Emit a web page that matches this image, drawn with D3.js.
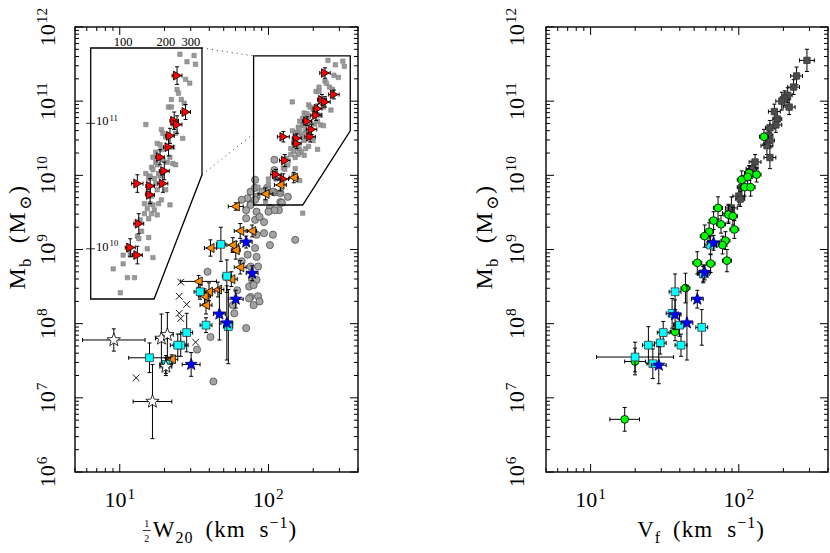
<!DOCTYPE html>
<html>
<head>
<meta charset="utf-8">
<script src="https://cdn.jsdelivr.net/npm/d3@7"></script>
<style>
  body { margin: 0; background: #fff; }
  svg { display: block; font-family: "Liberation Serif", "DejaVu Serif", serif; }
</style>
</head>
<body>
<svg id="chart" width="830" height="553"></svg>
<script>
const V_DOMAIN = [5, 400];
const M_DOMAIN = [1e6, 1e12];
const xTickExps = [1, 2];
const yTickExps = [6, 7, 8, 9, 10, 11, 12];
const insetXLabels = [100, 200, 300];
const insetYExps = [10, 11];

// all values are log10: [log V (km/s), log Mb (Msun), err log V, err log Mb]
const grayCircles = [
  [1.91,9.94],[1.88,9.78],[1.86,9.69],[1.82,9.67],[1.88,9.61],[1.92,9.71],[1.96,9.78],[1.99,9.83],
  [2.04,9.77],[2.04,10.21],[2.08,9.64],[2.07,9.53],[2.01,9.56],[1.92,9.51],[1.91,9.40],[1.97,9.37],
  [1.85,9.42],[2.03,9.20],[2.01,9.06],[1.97,9.22],[1.92,9.20],[2.18,9.13],[1.91,9.02],[1.92,8.90],
  [1.86,8.93],[1.82,8.84],[1.88,8.77],[1.93,8.77],[1.89,8.59],[1.92,8.59],[1.87,8.50],[1.90,8.52],
  [1.88,8.36],[1.93,8.37],[1.87,8.34],[1.94,8.30],[1.90,8.25],[1.59,8.70],[1.76,8.25],[1.77,8.14],
  [1.85,7.94],[1.61,7.82],[1.52,7.65],[1.63,7.22],[1.79,8.45],[2.04,10.07],[1.91,9.83],[1.88,9.60],
  [1.91,9.67],[2.03,9.78],[2.09,9.63],[2.04,9.53],[2.00,9.51],[1.94,9.44],[2.13,9.71],[2.08,9.76],
  [1.85,9.53]
];
const graySquares = [
  [2.40,11.55],[2.45,11.49],[2.50,11.54],[2.51,11.47],[2.44,11.35],[2.47,11.32],[2.38,11.27],[2.39,11.24],
  [2.34,11.19],[2.41,11.19],[2.43,11.16],[2.32,11.13],[2.34,11.13],[2.16,10.99],[2.27,10.95],[2.28,10.92],
  [2.30,10.89],[2.37,10.92],[2.42,10.88],[2.24,10.84],[2.26,10.83],[2.27,10.79],[2.23,10.77],[2.35,10.81],
  [2.21,10.73],[2.23,10.69],[2.24,10.67],[2.28,10.71],[2.31,10.69],[2.35,10.68],[2.37,10.67],[2.33,10.73],
  [2.20,10.65],[2.21,10.63],[2.25,10.60],[2.26,10.58],[2.22,10.56],[2.19,10.58],[2.16,10.60],[2.18,10.56],
  [2.23,10.52],[2.30,10.47],[2.17,10.44],[2.20,10.42],[2.24,10.47],[2.15,10.36],[2.19,10.36],[2.21,10.35],
  [2.25,10.36],[2.17,10.32],[2.22,10.31],[2.27,10.39],[2.33,10.35],[2.15,10.28],[2.20,10.28],[2.24,10.27],
  [2.18,10.24],[2.12,10.23],[2.13,10.14],[2.10,10.10],[2.18,10.09],[2.11,10.08],[2.04,9.99],[2.17,10.00],
  [2.21,9.93],[2.00,9.95],[2.05,9.95],[1.93,9.84],[2.00,9.88],[2.03,9.77],[2.08,9.77],[1.98,9.65],
  [2.23,9.49]
];
const redTriangles = [
  [2.38,11.38,0.035,0.07],[2.44,11.09,0.035,0.06],[2.36,11.02,0.03,0.07],[2.38,10.99,0.035,0.07],
  [2.33,10.90,0.03,0.06],[2.32,10.81,0.035,0.07],[2.26,10.73,0.03,0.06],[2.29,10.62,0.035,0.07],
  [2.28,10.52,0.035,0.07],[2.10,10.52,0.04,0.07],[2.19,10.50,0.03,0.06],[2.19,10.43,0.03,0.07],
  [2.11,10.20,0.035,0.08],[2.05,10.01,0.035,0.07],[2.10,9.95,0.035,0.07]
];
const orangeTriangles = [
  [2.17,9.97,0.03,0.07],[2.08,9.87,0.04,0.08],[1.98,9.75,0.05,0.08],[1.78,9.58,0.05,0.05],
  [1.81,9.25,0.04,0.10],[1.89,9.25,0.03,0.08],[1.76,9.06,0.04,0.10],[1.78,8.99,0.03,0.12],
  [1.61,9.02,0.04,0.11],[1.81,8.76,0.04,0.09],[1.75,8.60,0.04,0.10],[1.53,8.57,0.12,0.08],
  [1.60,8.43,0.04,0.12],[1.66,8.46,0.04,0.10],[1.57,8.37,0.04,0.10],[1.58,8.25,0.04,0.12],
  [1.35,7.52,0.04,0.06]
];
const cyanSquaresW = [
  [1.68,9.07,0.03,0.23],[1.72,8.64,0.03,0.22],[1.54,8.43,0.04,0.10],[1.58,7.98,0.04,0.10],
  [1.73,7.96,0.03,0.50],[1.45,7.88,0.04,0.26],[1.41,7.71,0.05,0.15],[1.39,7.71,0.05,0.15],
  [1.20,7.54,0.14,0.20],[1.31,7.45,0.04,0.12]
];
const blueStarsW = [
  [1.85,9.10,0.04,0.08],[1.89,8.68,0.04,0.10],[1.78,8.33,0.05,0.12],[1.67,8.13,0.04,0.35],
  [1.72,8.01,0.04,0.50],[1.48,7.45,0.06,0.16]
];
const whiteStars = [
  [0.96,7.78,0.21,0.15],[1.22,6.95,0.13,0.50],[1.28,7.80,0.04,0.33],[1.32,7.85,0.04,0.30],
  [1.31,7.42,0.04,0.12]
];
const crosses = [
  [1.41,8.56],[1.40,8.37],[1.45,8.26],[1.40,8.14],[1.41,8.07],[1.51,7.75],[1.11,7.27]
];

const darkSquares = [
  [2.46,11.55,0.05,0.15],[2.39,11.34,0.04,0.12],[2.37,11.19,0.04,0.10],[2.33,11.08,0.03,0.10],
  [2.31,11.04,0.03,0.10],[2.29,11.00,0.04,0.12],[2.34,10.92,0.04,0.10],[2.24,10.86,0.04,0.10],
  [2.26,10.76,0.03,0.10],[2.25,10.68,0.04,0.10],[2.21,10.64,0.03,0.10],[2.20,10.54,0.03,0.10],
  [2.21,10.47,0.03,0.10],[2.19,10.40,0.04,0.12],[2.21,10.24,0.04,0.15],[2.11,10.18,0.04,0.10],
  [2.09,10.09,0.04,0.10],[2.07,10.03,0.03,0.10],[2.02,9.84,0.03,0.15],[2.00,9.72,0.04,0.12],
  [2.01,9.68,0.03,0.10],[1.95,9.56,0.04,0.15],[1.93,9.49,0.04,0.12]
];
const greenCircles = [
  [2.17,10.52,0.03,0.10],[2.02,9.94,0.03,0.12],[2.07,10.03,0.03,0.10],[2.06,9.98,0.03,0.10],
  [2.12,10.01,0.03,0.10],[2.04,9.84,0.03,0.12],[2.08,9.84,0.03,0.12],[1.86,9.56,0.03,0.15],
  [1.93,9.47,0.03,0.12],[1.96,9.45,0.03,0.12],[1.83,9.39,0.03,0.12],[1.88,9.34,0.03,0.12],
  [1.97,9.27,0.03,0.12],[1.80,9.24,0.03,0.12],[1.77,9.18,0.03,0.15],[1.91,9.12,0.03,0.12],
  [1.89,9.06,0.03,0.12],[1.72,8.82,0.03,0.15],[1.81,8.81,0.03,0.12],[1.92,8.85,0.03,0.15],
  [1.76,8.67,0.03,0.12],[1.64,8.48,0.03,0.20],[1.57,7.89,0.03,0.12],[1.30,7.49,0.07,0.18],
  [1.23,6.71,0.10,0.16]
];
const cyanSquaresF = [
  [1.81,9.06,0.04,0.12],[1.76,8.67,0.04,0.10],[1.57,8.43,0.04,0.24],[1.55,8.14,0.04,0.20],
  [1.60,7.98,0.04,0.15],[1.75,7.95,0.04,0.24],[1.49,7.88,0.04,0.15],[1.47,7.74,0.04,0.15],
  [1.39,7.71,0.04,0.25],[1.61,7.71,0.04,0.15],[1.30,7.55,0.26,0.20],[1.42,7.46,0.04,0.20]
];
const blueStarsF = [
  [1.83,9.09,0.04,0.10],[1.77,8.69,0.04,0.10],[1.72,8.33,0.04,0.12],[1.57,8.12,0.04,0.20],
  [1.65,8.01,0.04,0.50],[1.46,7.44,0.05,0.25]
];

// zoom box in the left panel and the inset that magnifies it (log10 V, log10 Mb)
const zoomBox = [[1.90,11.61],[2.55,11.61],[2.55,10.60],[2.23,9.60],[1.90,9.60]];
const insetBox = [[1.771,11.6],[2.556,11.6],[2.556,10.59],[2.218,9.6],[1.771,9.6]];

const p10 = v => Math.pow(10, v);
const svg = d3.select('#chart');

function starPath(r) {
  const pts = d3.range(10).map(i => {
    const a = -Math.PI / 2 + i * Math.PI / 5, rr = i % 2 ? r * 0.42 : r;
    return [rr * Math.cos(a), rr * Math.sin(a)];
  });
  return 'M' + pts.map(p => p[0].toFixed(2) + ',' + p[1].toFixed(2)).join('L') + 'Z';
}
const SHAPES = {
  circle: r => `M${r},0A${r},${r} 0 1,1 ${-r},0A${r},${r} 0 1,1 ${r},0Z`,
  square: r => `M${-r},${-r}H${r}V${r}H${-r}Z`,
  triRight: r => `M${-r * 0.8},${-r}L${r},0L${-r * 0.8},${r}Z`,
  triLeft: r => `M${r * 0.8},${-r}L${-r},0L${r * 0.8},${r}Z`,
  star: starPath,
  cross: r => `M${-r},${-r}L${r},${r}M${-r},${r}L${r},${-r}`,
};

function drawSeries(g, x, y, data, opt) {
  if (data[0].length > 2) {
    const c = 2;
    g.append('g')
      .attr('fill', 'none')
      .attr('stroke', '#000')
      .attr('stroke-width', 1)
      .selectAll('path').data(data).join('path')
      .attr('d', d => {
        const cx = x(p10(d[0])), cy = y(p10(d[1]));
        const xl = x(p10(d[0] - d[2])), xr = x(p10(d[0] + d[2]));
        const yt = y(p10(d[1] + d[3])), yb = y(p10(d[1] - d[3]));
        return `M${xl},${cy}H${xr}M${xl},${cy - c}V${cy + c}M${xr},${cy - c}V${cy + c}` +
          `M${cx},${yt}V${yb}M${cx - c},${yt}H${cx + c}M${cx - c},${yb}H${cx + c}`;
      });
  }
  g.append('g').selectAll('path').data(data).join('path')
    .attr('transform', d => `translate(${x(p10(d[0]))},${y(p10(d[1]))})`)
    .attr('d', SHAPES[opt.shape](opt.r))
    .attr('fill', opt.fill)
    .attr('stroke', opt.stroke)
    .attr('stroke-width', opt.sw || 0.8);
}

function powLabel(text, exp) {
  text.append('tspan').text('10');
  text.append('tspan').attr('dx', 1).attr('dy', '-0.5em').attr('font-size', '0.7em').text(exp);
}

function makePanel(id, x0, x1, yLabelX, tickLabelX) {
  const x = d3.scaleLog().domain(V_DOMAIN).range([x0, x1]);
  const y = d3.scaleLog().domain(M_DOMAIN).range([472, 27]);
  const g = svg.append('g').attr('class', 'panel panel-' + id);

  g.append('clipPath').attr('id', 'clip-' + id)
    .append('rect').attr('x', x0).attr('y', 27).attr('width', x1 - x0).attr('height', 445);
  const plot = g.append('g').attr('clip-path', `url(#clip-${id})`);

  const isMajor = v => Math.abs(Math.log10(v) - Math.round(Math.log10(v))) < 1e-6;
  const ticks = g.append('g').attr('stroke', '#000').attr('stroke-width', 1);
  x.ticks().forEach(v => {
    const len = isMajor(v) ? 8 : 4, px = x(v);
    ticks.append('line').attr('x1', px).attr('x2', px).attr('y1', 472).attr('y2', 472 - len);
    ticks.append('line').attr('x1', px).attr('x2', px).attr('y1', 27).attr('y2', 27 + len);
  });
  y.ticks().forEach(v => {
    const len = isMajor(v) ? 8 : 4, py = y(v);
    ticks.append('line').attr('x1', x0).attr('x2', x0 + len).attr('y1', py).attr('y2', py);
    ticks.append('line').attr('x1', x1).attr('x2', x1 - len).attr('y1', py).attr('y2', py);
  });

  g.append('rect')
    .attr('x', x0).attr('y', 27).attr('width', x1 - x0).attr('height', 445)
    .attr('fill', 'none').attr('stroke', '#000').attr('stroke-width', 1.4);

  xTickExps.forEach(e => {
    g.append('text').attr('x', x(p10(e))).attr('y', 507)
      .attr('text-anchor', 'middle').attr('font-size', 22)
      .call(powLabel, e);
  });
  yTickExps.forEach(e => {
    g.append('text').attr('transform', `translate(${tickLabelX},${y(p10(e))}) rotate(-90)`)
      .attr('text-anchor', 'middle').attr('font-size', 22)
      .call(powLabel, e);
  });

  const yl = g.append('text')
    .attr('transform', `translate(${yLabelX},237) rotate(-90)`)
    .attr('text-anchor', 'middle').attr('font-size', 24).attr('letter-spacing', 1.5);
  yl.append('tspan').text('M');
  yl.append('tspan').attr('dy', 6).attr('font-size', 16).text('b');
  yl.append('tspan').attr('dy', -6).attr('dx', 14).text('(M');
  yl.append('tspan').attr('dy', 6).attr('dx', 1).attr('font-size', 17).text('\u2299');
  yl.append('tspan').attr('dy', -6).text(')');

  return {g, plot, x, y};
}

function xAxisLabel(g, cx, withHalf, sym, sub) {
  const lab = g.append('g');
  let off = 0;
  if (withHalf) {
    lab.append('text').attr('x', 4).attr('y', -10).attr('font-size', 10).attr('text-anchor', 'middle').text('1');
    lab.append('text').attr('x', 4).attr('y', 5).attr('font-size', 10).attr('text-anchor', 'middle').text('2');
    lab.append('line').attr('x1', 0).attr('x2', 8).attr('y1', -6.5).attr('y2', -6.5).attr('stroke', '#000').attr('stroke-width', 0.8);
    off = 10;
  }
  const t = lab.append('text').attr('x', off).attr('y', 0).attr('font-size', 23).attr('letter-spacing', 1);
  t.append('tspan').text(sym);
  t.append('tspan').attr('dy', 6).attr('font-size', 16).text(sub);
  t.append('tspan').attr('dy', -6).attr('dx', 12).text('(km');
  t.append('tspan').attr('dx', 14).text('s');
  t.append('tspan').attr('dy', -9).attr('font-size', 16).text('\u22121');
  t.append('tspan').attr('dy', 9).text(')');
  const bb = lab.node().getBBox();
  lab.attr('transform', `translate(${cx - bb.x - bb.width / 2},537)`);
}

// ---- left panel: half width W20 ----
const L = makePanel('w20', 75, 358, 25, 55);
drawSeries(L.plot, L.x, L.y, crosses, {shape: 'cross', r: 3.4, fill: 'none', stroke: '#000', sw: 0.9});
drawSeries(L.plot, L.x, L.y, grayCircles, {shape: 'circle', r: 3.6, fill: '#a3a3a3', stroke: '#444', sw: 0.7});
drawSeries(L.plot, L.x, L.y, graySquares, {shape: 'square', r: 2.2, fill: '#9a9a9a', stroke: '#707070', sw: 0.5});
drawSeries(L.plot, L.x, L.y, redTriangles, {shape: 'triRight', r: 4.3, fill: '#ff0000', stroke: '#000'});
drawSeries(L.plot, L.x, L.y, orangeTriangles, {shape: 'triLeft', r: 4.5, fill: '#ff8c00', stroke: '#000'});
drawSeries(L.plot, L.x, L.y, cyanSquaresW, {shape: 'square', r: 3.9, fill: '#00ffff', stroke: '#333'});
drawSeries(L.plot, L.x, L.y, whiteStars, {shape: 'star', r: 7, fill: '#fff', stroke: '#000'});
drawSeries(L.plot, L.x, L.y, blueStarsW, {shape: 'star', r: 6.3, fill: '#0000ff', stroke: '#000060'});

const boxLine = d3.line().x(d => L.x(p10(d[0]))).y(d => L.y(p10(d[1])));
L.g.append('path').attr('d', boxLine(zoomBox) + 'Z')
  .attr('fill', 'none').attr('stroke', '#000').attr('stroke-width', 1.3);

// inset: magnified view of the zoom box
const xi = d3.scaleLog().domain([p10(1.771), p10(2.556)]).range([90.7, 202]);
const yi = d3.scaleLog().domain([p10(9.6), p10(11.6)]).range([299, 48]);
const insetLine = d3.line().x(d => xi(p10(d[0]))).y(d => yi(p10(d[1])));

L.g.append('line')
  .attr('x1', xi(p10(2.556))).attr('y1', yi(p10(11.6)))
  .attr('x2', L.x(p10(1.90))).attr('y2', L.y(p10(11.61)))
  .attr('stroke', '#333').attr('stroke-dasharray', '1,4');
L.g.append('line')
  .attr('x1', xi(p10(2.556))).attr('y1', yi(p10(10.59)))
  .attr('x2', L.x(p10(1.90))).attr('y2', L.y(p10(10.56)))
  .attr('stroke', '#333').attr('stroke-dasharray', '1,4');

const inset = L.g.append('g').attr('class', 'inset');
inset.append('clipPath').attr('id', 'clip-inset')
  .append('path').attr('d', insetLine(insetBox) + 'Z');
inset.append('path').attr('d', insetLine(insetBox) + 'Z').attr('fill', '#fff');
const insetPlot = inset.append('g').attr('clip-path', 'url(#clip-inset)');
drawSeries(insetPlot, xi, yi, graySquares, {shape: 'square', r: 2.2, fill: '#9a9a9a', stroke: '#707070', sw: 0.5});
drawSeries(insetPlot, xi, yi, redTriangles, {shape: 'triRight', r: 4.5, fill: '#ff0000', stroke: '#000'});
inset.append('path').attr('d', insetLine(insetBox) + 'Z')
  .attr('fill', 'none').attr('stroke', '#000').attr('stroke-width', 1.3);

insetXLabels.forEach(v => {
  inset.append('text').attr('x', xi(v)).attr('y', 46)
    .attr('text-anchor', 'middle').attr('font-size', 12.5).text(v);
});
insetYExps.forEach(e => {
  const py = yi(p10(e));
  inset.append('line').attr('x1', 86).attr('x2', 95).attr('y1', py).attr('y2', py)
    .attr('stroke', '#000').attr('stroke-width', 0.8);
  inset.append('text').attr('x', 96).attr('y', py + 2).attr('font-size', 12.5).call(powLabel, e);
});

xAxisLabel(L.g, 220, true, 'W', '20');

// ---- right panel: flat rotation velocity ----
const R = makePanel('vf', 546, 828, 492, 524);
drawSeries(R.plot, R.x, R.y, darkSquares, {shape: 'square', r: 3.2, fill: '#4d4d4d', stroke: '#333'});
drawSeries(R.plot, R.x, R.y, greenCircles, {shape: 'circle', r: 3.9, fill: '#00ff00', stroke: '#000'});
drawSeries(R.plot, R.x, R.y, cyanSquaresF, {shape: 'square', r: 3.9, fill: '#00ffff', stroke: '#333'});
drawSeries(R.plot, R.x, R.y, blueStarsF, {shape: 'star', r: 6.3, fill: '#0000ff', stroke: '#000060'});

xAxisLabel(R.g, 701, false, 'V', 'f');
</script>
</body>
</html>
